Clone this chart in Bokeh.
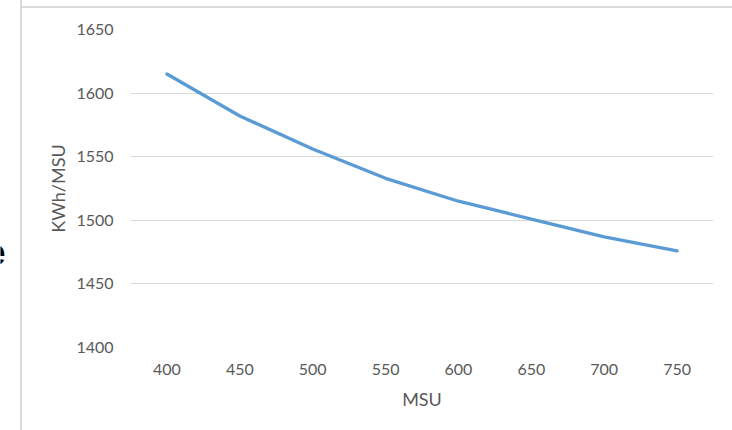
from bokeh.plotting import figure
from bokeh.layouts import row
from bokeh.models import FactorRange, Range1d, FixedTicker, Label, InlineStyleSheet
from bokeh.embed import file_html
from bokeh.resources import INLINE

# Energy use per unit of throughput
msu = ["400", "450", "500", "550", "600", "650", "700", "750"]
kwh_per_msu = [1615, 1582, 1556, 1533, 1515, 1501, 1487, 1476]
y_ticks = [1400, 1450, 1500, 1550, 1600, 1650]

FONT = "Lato"
GREY_TEXT = "#595959"
GRID = "#d9d9d9"

# main chart, sitting in the right-hand cell of the slide
p = figure(
    width=711, height=430,
    x_range=FactorRange(factors=msu, range_padding=0),
    y_range=Range1d(1400, 1650),
    output_backend="svg", toolbar_location=None,
    min_border_left=109, min_border_right=19,
    min_border_top=29, min_border_bottom=83,
)
p.outline_line_color = None

p.line(msu, kwh_per_msu, line_color="#5B9BD5", line_width=3.3,
       line_cap="round", line_join="round")

p.xgrid.visible = False
p.ygrid.grid_line_color = GRID
p.yaxis.ticker = FixedTicker(ticks=y_ticks)

for ax in (p.xaxis[0], p.yaxis[0]):
    ax.axis_line_color = None
    ax.major_tick_line_color = None
    ax.minor_tick_line_color = None
    ax.major_label_text_font = FONT
    ax.major_label_text_font_size = "16px"
    ax.major_label_text_color = GREY_TEXT
    ax.axis_label_text_font = FONT
    ax.axis_label_text_font_size = "18px"
    ax.axis_label_text_font_style = "normal"
    ax.axis_label_text_color = GREY_TEXT

p.xaxis.axis_label = "MSU"
p.xaxis.major_label_standoff = 10
p.xaxis.axis_label_standoff = 10
p.yaxis.axis_label = "KWh/MSU"
p.yaxis.major_label_standoff = 11
p.yaxis.axis_label_standoff = 4

# cell borders of the slide table around the chart
p.stylesheets.append(InlineStyleSheet(css="""
:host::before { content: ''; position: absolute; left: -1px; top: 0; width: 2px;
  height: 430px; background: #dadada; z-index: 5; }
:host::after { content: ''; position: absolute; left: 0; top: 6px; width: 711px;
  height: 2px; background: #dadada; z-index: 5; }
"""))

# narrow strip on the left: the edge of the slide heading's last letter
side = figure(
    width=21, height=430, x_range=Range1d(0, 1), y_range=Range1d(0, 1),
    x_axis_type=None, y_axis_type=None,
    output_backend="svg", toolbar_location=None, min_border=0,
)
side.outline_line_color = None
side.grid.visible = False
side.add_layout(Label(x=5, y=96, x_units="screen", y_units="screen",
                      text="e", text_align="right", text_baseline="alphabetic",
                      text_font="Liberation Sans", text_font_style="bold",
                      text_font_size="37px", text_color="black"))

layout = row(side, p, spacing=0)
open("out.html", "w").write(file_html(layout, INLINE))
